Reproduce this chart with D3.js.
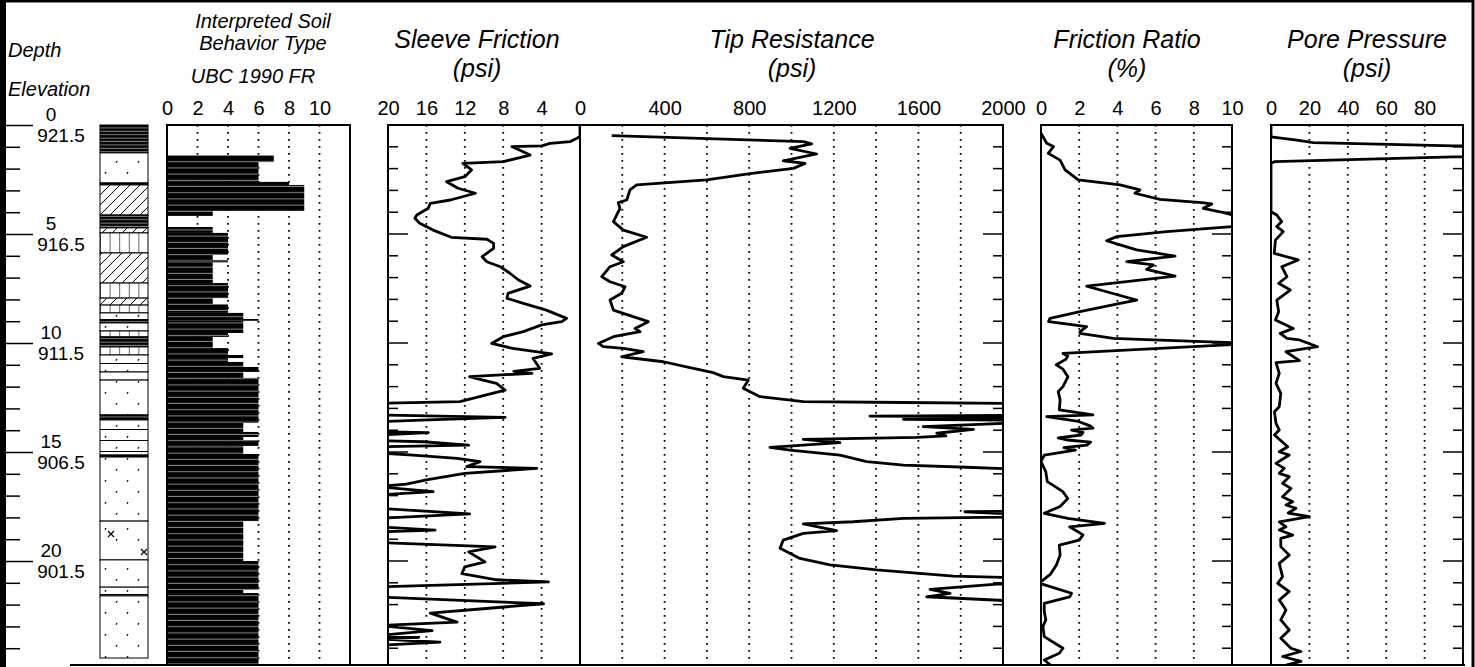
<!doctype html>
<html lang="en">
<head>
<meta charset="utf-8">
<title>CPT sounding log</title>
<script src="https://cdn.jsdelivr.net/npm/d3@7"></script>
<style>
 body{margin:0;background:#fff;}
 svg{display:block;font-family:"Liberation Sans",Arial,sans-serif;}
 .title{font-style:italic;font-size:25px;text-anchor:middle;}
 .subtitle{font-style:italic;font-size:20px;text-anchor:middle;}
 .grid{stroke:#000;stroke-width:1.8;stroke-dasharray:1.8,5.2;}
 .frame{fill:none;stroke:#000;stroke-width:2;}
 .curve{fill:none;stroke:#000;stroke-width:2.8;stroke-linejoin:round;}
</style>
</head>
<body>
<svg width="1475" height="667"></svg>
<script>
// ---- data (depth in ft) ----
const groundElev = 921.5;
const depthTicks = [0,1,2,3,4,5,6,7,8,9,10,11,12,13,14,15,16,17,18,19,20,21,22,23,24];
const depthLabels = [0,5,10,15,20];

const soilTicks = [0,2,4,6,8,10];
const soilGrid = [2,4,6,8,10];
const sleeveTicks = [20,16,12,8,4,0];
const sleeveGrid = [16,12,8,4];
const tipTicks = [400,800,1200,1600,2000];   // its 0 is shared with the sleeve axis
const tipGrid = [200,400,600,800,1000,1200,1400,1600,1800];
const ratioTicks = [0,2,4,6,8,10];
const ratioGrid = [2,4,6,8];
const poreTicks = [0,20,40,60,80];
const poreGrid = [20,40,60,80];

// [top, bottom, type]
const lithology = [
 [0,1.28,"clay"],[1.28,2.66,"sand"],[2.66,2.75,"clay"],[2.75,4.13,"silt"],[4.13,4.72,"clay"],
 [4.72,4.95,"silt"],[4.95,5.87,"brick"],[5.87,7.25,"silt"],[7.25,7.94,"brick"],[7.94,8.26,"silt"],
 [8.26,8.62,"brick"],[8.62,8.94,"mix"],[8.94,9.08,"clay"],[9.08,9.45,"sand"],[9.45,9.72,"brick"],
 [9.72,10.18,"clay"],[10.18,10.55,"brick"],[10.55,11.33,"mix"],[11.33,11.7,"sand"],[11.7,13.3,"sand"],
 [13.3,13.53,"clay"],[13.53,15.14,"mix"],[15.14,15.23,"clay"],[15.23,18.17,"sand"],[18.17,19.95,"gravel"],
 [19.95,21.2,"sand"],[21.2,21.6,"mix"],[21.6,24.45,"sand"]
];

// [top, bottom, soil behaviour type]
const sbtLayers = [
 [1.38,1.7,7],[1.7,2.61,6],[2.61,2.75,8],[2.75,3.94,9],[3.94,4.17,3],
 [4.68,4.95,3],[4.95,5.96,4],[5.96,6.19,3],[6.19,6.3,4],[6.3,7.25,3],[7.25,7.94,4],[7.94,8.21,3],
 [8.21,8.62,4],[8.62,8.9,5],[8.9,8.98,6],[8.98,9.54,5],[9.54,9.72,4],[9.72,10.23,3],[10.23,10.55,4],
 [10.55,10.69,5],[10.69,10.87,4],[10.87,11.1,5],[11.1,11.33,6],[11.33,11.6,5],[11.6,13.67,6],
 [13.67,14.08,5],[14.08,14.31,6],[14.31,14.45,5],[14.45,14.72,6],[14.72,15.09,5],[15.09,18.17,6],
 [18.17,20.0,5],[20.0,21.33,6],[21.33,21.47,5],[21.47,24.77,6]
];

// [depth, psi]
const sleeveFriction = [
 [0,0],[0.54,0],[0.76,1.0],[0.84,3.1],[0.96,4.0],[0.99,7.1],[1.38,5.2],[1.68,8.0],[1.76,12.2],
 [2.06,11.3],[2.37,12.0],[2.6,13.9],[2.9,12.7],[3.13,10.9],[3.44,13.5],[3.59,15.6],[3.82,15.8],
 [4.13,17.0],[4.28,17.2],[4.51,16.7],[4.82,15.3],[5.15,13.4],[5.24,9.7],[5.43,9.0],[5.66,9.0],
 [6.04,10.2],[6.27,9.7],[6.5,8.3],[6.8,7.3],[7.11,6.4],[7.39,5.2],[7.72,7.5],[7.95,7.6],[8.18,5.9],
 [8.49,3.5],[8.87,1.4],[9.02,1.9],[9.17,4.0],[9.48,5.9],[9.71,8.0],[10.02,9.2],[10.25,7.0],
 [10.5,2.95],[10.7,4.9],[11.16,4.2],[11.3,6.9],[11.39,5.0],[11.54,11.5],[11.7,10.1],[11.85,8.7],
 [12.16,7.8],[12.61,11.8],[12.69,12.5],[12.77,21],[13.3,21],[13.41,7.8],[13.53,15.8],[13.61,21],
 [14.07,21],[14.11,15.8],[14.22,21],[14.48,21],[14.53,16.3],[14.68,11.6],[14.76,21],[15.04,21],
 [15.14,17.4],[15.29,12.8],[15.44,10.4],[15.67,11.8],[15.75,4.5],[15.98,12.0],[16.28,16.0],
 [16.47,18.1],[16.59,21],[16.82,15.3],[16.97,21],[17.58,21],[17.84,11.5],[18.04,21],[18.43,21],
 [18.58,15.1],[18.66,21],[19.15,21],[19.35,8.85],[19.58,11.6],[20.04,9.9],[20.27,12.0],[20.58,12.3],
 [20.86,8.7],[20.96,3.3],[21.19,21],[21.65,21],[21.96,3.8],[22.19,10.1],[22.39,15.6],[22.8,12.8],
 [22.96,21],[23.19,15.4],[23.42,21],[23.5,16.8],[23.57,21],[23.72,14.6],[23.87,21],[24.77,21]
];

// [depth, psi]
const tipResistance = [
 [0.49,150],[0.76,1056],[0.87,1095],[1.07,993],[1.33,1119],[1.64,961],[1.76,1064],[1.99,1009],
 [2.22,812],[2.52,599],[2.75,268],[2.98,236],[3.44,221],[3.56,181],[3.82,189],[4.43,158],[4.82,205],
 [5.15,315],[5.58,205],[5.96,150],[6.27,205],[6.5,142],[6.96,103],[7.19,142],[7.42,213],[7.72,197],
 [8.03,142],[8.49,158],[9.02,323],[9.33,260],[9.48,284],[9.71,158],[10.02,87],[10.17,110],[10.25,205],
 [10.4,299],[10.63,197],[10.86,394],[11.16,536],[11.36,630],[11.54,678],[11.7,796],[12.08,772],
 [12.46,851],[12.69,1056],[12.73,1529],[12.8,2300],[13.3,2300],[13.35,1371],[13.41,2300],[13.5,1529],
 [13.56,2300],[13.84,1623],[13.96,1860],[14.14,1687],[14.26,1730],[14.33,1592],[14.42,1056],
 [14.57,1229],[14.79,898],[14.91,993],[15.14,1229],[15.44,1356],[15.6,1529],[15.7,1828],[15.87,2300],
 [17.7,2300],[17.74,1820],[17.96,2300],[18.04,1529],[18.2,1292],[18.3,1056],[18.61,1213],[18.73,1056],
 [19.04,961],[19.42,946],[19.88,1040],[20.18,1182],[20.41,1403],[20.69,1765],[20.83,2300],[21.0,2300],
 [21.06,1970],[21.3,1655],[21.48,1750],[21.64,1639],[21.8,1980],[22.0,2300],[24.77,2300]
];

// [depth, %]
const frictionRatio = [
 [0.38,0],[0.84,0.3],[0.99,0.65],[1.3,0.38],[1.61,1.0],[2.06,1.26],[2.52,1.95],[2.75,4.14],[2.98,5.18],
 [3.13,4.92],[3.41,6.23],[3.56,8.41],[3.62,8.94],[3.82,8.5],[3.98,9.37],[4.17,10.2],[4.3,11],[4.6,11],
 [4.66,10],[4.89,6.58],[5.12,3.96],[5.31,3.44],[5.5,4.14],[5.73,5.01],[6.01,7.02],[6.27,4.49],
 [6.42,5.88],[6.62,5.53],[6.93,7.02],[7.39,2.39],[7.65,3.44],[8.03,5.01],[8.18,4.14],[8.56,2.04],
 [8.87,0.47],[9.02,0.4],[9.25,2.39],[9.48,2.04],[9.56,2.04],[9.79,3.79],[9.86,5.88],[10.0,10.5],
 [10.05,10.5],[10.48,1.15],[10.6,1.4],[10.75,1.3],[11.0,0.8],[11.2,1.15],[11.55,1.41],[12.0,1.15],
 [12.23,0.9],[12.61,1.0],[13.07,0.96],[13.3,2.72],[13.38,0.3],[13.6,1.96],[13.8,2.57],[13.9,2.72],
 [14.0,1.6],[14.1,2.2],[14.22,2.1],[14.35,0.9],[14.45,1.4],[14.55,2.6],[14.68,2.4],[14.8,1.2],
 [14.91,1.8],[15.14,0.17],[15.44,0.0],[15.9,0.25],[16.36,0.33],[16.82,1.15],[17.13,1.4],[17.5,1.0],
 [17.81,0.17],[18.04,1.4],[18.27,3.33],[18.43,1.5],[18.8,2.2],[19.04,2.0],[19.27,0.96],[19.73,1.0],
 [20.19,0.8],[20.6,0.5],[21.02,-0.1],[21.48,1.6],[21.65,1.5],[21.94,0.17],[22.3,0.17],[22.7,0.25],
 [23.0,0.1],[23.47,0.17],[24.0,1.15],[24.23,0.96],[24.54,0.17],[24.77,0.5]
];

// [depth, psi]
const porePressure = [
 [0,0],[0.54,0],[0.69,13.4],[0.81,22],[0.96,95],[0.98,140],[1.44,140],[1.46,95],[1.68,2],[1.75,0],
 [3.98,0],[4.13,3],[4.43,5.6],[4.66,3],[4.89,6.4],[5.28,2.3],[5.89,1.7],[6.19,14.2],[6.5,5.6],
 [6.96,8.3],[7.26,4],[7.57,10],[8.03,3],[8.56,4],[8.94,2.3],[9.33,11.6],[9.56,4.8],[9.79,8.3],
 [9.86,14.8],[10.17,24.3],[10.4,7.8],[10.81,14.8],[10.9,2.6],[11.39,4.3],[11.85,2.6],[12.31,5.1],
 [12.92,4.3],[13.15,1.8],[13.69,2.6],[13.99,4.3],[14.22,1.8],[14.76,8.7],[14.99,4.3],[15.14,9.5],
 [15.52,2.6],[15.75,6.9],[15.98,4.3],[16.13,9.5],[16.44,6],[16.67,10.4],[17.05,6],[17.28,11.3],
 [17.43,7.8],[17.58,13],[17.8,9],[17.96,20],[18.2,4.3],[18.43,7.8],[18.58,4.3],[18.81,11.3],
 [18.96,5.1],[19.34,5.1],[19.73,9.5],[20.11,4.3],[20.72,6],[21.02,3.5],[21.4,9.5],[21.79,4.3],
 [22.25,7.8],[22.7,5.1],[23.16,9.5],[23.54,5.1],[24.0,10.4],[24.15,15.6],[24.38,6],[24.6,15.6],
 [24.77,7.8]
];

// ---- layout ----
const svg = d3.select("svg");
const yTop = 125, yBot = 665;
const yScale = d3.scaleLinear().domain([0,24.77]).range([yTop,yBot]);

const xSoil = d3.scaleLinear().domain([0,12]).range([167,350]);
const xSleeve = d3.scaleLinear().domain([20,0]).range([388,580]);
const xTip = d3.scaleLinear().domain([0,2000]).range([580,1003]);
const xRatio = d3.scaleLinear().domain([0,10]).range([1041,1232]);
const xPore = d3.scaleLinear().domain([0,100]).range([1271,1463]);

// ---- patterns ----
const defs = svg.append("defs");
function pattern(id,w,h){
 const p = defs.append("pattern").attr("id",id).attr("patternUnits","userSpaceOnUse")
  .attr("x",100).attr("y",yTop).attr("width",w).attr("height",h);
 p.append("rect").attr("width",w).attr("height",h).attr("fill","#fff");
 return p;
}
const pBar = defs.append("pattern").attr("id","bar").attr("patternUnits","userSpaceOnUse")
 .attr("y",yTop).attr("width",10).attr("height",6.2);
pBar.append("rect").attr("width",10).attr("height",6.2).attr("fill","#000");
pBar.append("rect").attr("y",5.2).attr("width",10).attr("height",1).attr("fill","#8a8a8a");

const pClay = pattern("clay",10,3.4);
pClay.select("rect").attr("fill","#000");
pClay.append("rect").attr("y",2.4).attr("width",10).attr("height",1).attr("fill","#888");

const dots = [[5,3],[27,3],[16,14],[38,14]];
const pSand = pattern("sand",44,22);
dots.forEach(([x,y])=>pSand.append("path").attr("d",`M${x},${y+1.6}L${x+1},${y}`).attr("stroke","#000").attr("stroke-width",1.3));

const pMix = pattern("mix",44,22);
dots.forEach(([x,y])=>pMix.append("path").attr("d",`M${x},${y+1.6}L${x+1},${y}`).attr("stroke","#000").attr("stroke-width",1.3));
pMix.append("path").attr("d","M0,7.5H44M0,18.5H44").attr("stroke","#000").attr("stroke-width",1.2);

const pGravel = pattern("gravel",48,40);
dots.forEach(([x,y])=>pGravel.append("path").attr("d",`M${x},${y+1.6}L${x+1},${y}`).attr("stroke","#000").attr("stroke-width",1.3));
pGravel.append("path").attr("d","M8,6l6,6M14,6l-6,6M41,24l6,6M47,24l-6,6").attr("stroke","#000").attr("stroke-width",1.2);

const pSilt = pattern("silt",10,10);
pSilt.append("path").attr("d","M0,10L10,0M-2,2L2,-2M8,12L12,8").attr("stroke","#000").attr("stroke-width",1);

const pBrick = pattern("brick",9.6,10);
pBrick.append("path").attr("d","M0,0V10").attr("stroke","#000").attr("stroke-width",1.2);

// ---- outer frame ----
svg.append("rect").attr("x",1.5).attr("y",1).attr("width",1471.5).attr("height",700)
 .attr("fill","none").attr("stroke","#000").attr("stroke-width",3);
svg.append("line").attr("x1",4).attr("x2",4).attr("y1",0).attr("y2",667)
 .attr("stroke","#000").attr("stroke-width",4);

// ---- titles ----
const titles = [
 {x:263,y:28,t:"Interpreted Soil",c:"subtitle"},
 {x:263,y:50,t:"Behavior Type",c:"subtitle"},
 {x:253,y:83,t:"UBC 1990 FR",c:"subtitle"},
 {x:477,y:48,t:"Sleeve Friction",c:"title"},{x:477,y:77,t:"(psi)",c:"title"},
 {x:792,y:48,t:"Tip Resistance",c:"title"},{x:792,y:77,t:"(psi)",c:"title"},
 {x:1127,y:48,t:"Friction Ratio",c:"title"},{x:1127,y:77,t:"(%)",c:"title"},
 {x:1367,y:48,t:"Pore Pressure",c:"title"},{x:1367,y:77,t:"(psi)",c:"title"}
];
svg.selectAll(".ttl").data(titles).enter().append("text")
 .attr("class",d=>d.c).attr("x",d=>d.x).attr("y",d=>d.y).text(d=>d.t);
svg.append("text").attr("x",8).attr("y",57).style("font-style","italic").style("font-size","20px").text("Depth");
svg.append("text").attr("x",8).attr("y",96).style("font-style","italic").style("font-size","20px").text("Elevation");

// ---- depth axis ----
const depthAxis = svg.append("g").attr("transform","translate(4,0)")
 .call(d3.axisRight(yScale).tickValues(depthTicks).tickFormat("").tickSizeOuter(0)
  .tickSizeInner(0));
depthAxis.select(".domain").remove();
depthAxis.selectAll(".tick line").attr("x2",d=>depthLabels.includes(d)?29:16).attr("stroke-width",1.5);
svg.selectAll(".dlab").data(depthLabels).enter().append("text")
 .attr("x",51).attr("y",d=>yScale(d)-4).attr("text-anchor","middle").style("font-size","19px").text(d=>d);
svg.selectAll(".elab").data(depthLabels).enter().append("text")
 .attr("x",61).attr("y",d=>yScale(d)+17).attr("text-anchor","middle").style("font-size","19px")
 .text(d=>(groundElev-d).toFixed(1));

// ---- lithology column ----
svg.append("g").selectAll("rect").data(lithology).enter().append("rect")
 .attr("x",100).attr("width",48)
 .attr("y",d=>yScale(d[0])).attr("height",d=>yScale(d[1])-yScale(d[0]))
 .attr("fill",d=>`url(#${d[2]})`).attr("stroke","#000").attr("stroke-width",1);

// ---- helpers ----
function tickLabels(scale,values,fmt){
 const g = svg.append("g").attr("transform","translate(0,115)")
  .call(d3.axisTop(scale).tickValues(values).tickSize(0).tickPadding(0).tickFormat(fmt||(d=>d)));
 g.select(".domain").remove();
 g.attr("font-family",null).attr("font-size",null);
 g.selectAll("text").style("font-size","20px");
}
function grid(scale,values){
 svg.append("g").selectAll("line").data(values).enter().append("line").attr("class","grid")
  .attr("x1",d=>scale(d)).attr("x2",d=>scale(d)).attr("y1",yTop).attr("y2",yBot);
}
function sideTicks(x,dir){
 svg.append("g").selectAll("line").data(depthTicks.slice(1)).enter().append("line")
  .attr("x1",x).attr("x2",d=>x+dir*(d%5===0?20:10))
  .attr("y1",d=>yScale(d)).attr("y2",d=>yScale(d)).attr("stroke","#000").attr("stroke-width",1.5);
}
function curve(scale,data,id){
 const [x0,x1] = scale.range().slice().sort((a,b)=>a-b);
 defs.append("clipPath").attr("id",id).append("rect")
  .attr("x",x0).attr("y",yTop).attr("width",x1-x0).attr("height",yBot-yTop);
 const line = d3.line().x(d=>scale(d[1])).y(d=>yScale(d[0]));
 svg.append("path").datum(data).attr("class","curve").attr("clip-path",`url(#${id})`).attr("d",line);
}

// ---- soil behaviour type ----
tickLabels(xSoil,soilTicks);
grid(xSoil,soilGrid);
svg.append("g").selectAll("rect").data(sbtLayers).enter().append("rect")
 .attr("x",xSoil(0)).attr("width",d=>xSoil(d[2])-xSoil(0))
 .attr("y",d=>yScale(d[0])).attr("height",d=>yScale(d[1])-yScale(d[0]))
 .attr("fill","url(#bar)");
svg.append("path").attr("class","frame").attr("stroke-width",1.5)
 .attr("d",`M${xSoil(0)},${yBot}V${yTop}H${xSoil(12)}V${yBot}`);

// ---- sleeve friction & tip resistance ----
tickLabels(xSleeve,sleeveTicks);
tickLabels(xTip,tipTicks);
grid(xSleeve,sleeveGrid);
grid(xTip,tipGrid);
curve(xSleeve,sleeveFriction,"clipSleeve");
curve(xTip,tipResistance,"clipTip");
svg.append("path").attr("class","frame")
 .attr("d",`M388,${yBot}V${yTop}H1003V${yBot}M580,${yTop}V${yBot}`);
sideTicks(388,1);
sideTicks(1003,-1);

// ---- friction ratio ----
tickLabels(xRatio,ratioTicks);
grid(xRatio,ratioGrid);
curve(xRatio,frictionRatio,"clipRatio");
svg.append("path").attr("class","frame").attr("d",`M1041,${yBot}V${yTop}H1232V${yBot}`);
sideTicks(1232,-1);

// ---- pore pressure ----
tickLabels(xPore,poreTicks);
grid(xPore,poreGrid);
curve(xPore,porePressure,"clipPore");
svg.append("path").attr("class","frame").attr("d",`M1271,${yBot}V${yTop}H1463V${yBot}`);
sideTicks(1463,-1);

// bottom rule
svg.append("line").attr("x1",70).attr("x2",1465).attr("y1",yBot).attr("y2",yBot)
 .attr("stroke","#000").attr("stroke-width",2);
</script>
</body>
</html>
